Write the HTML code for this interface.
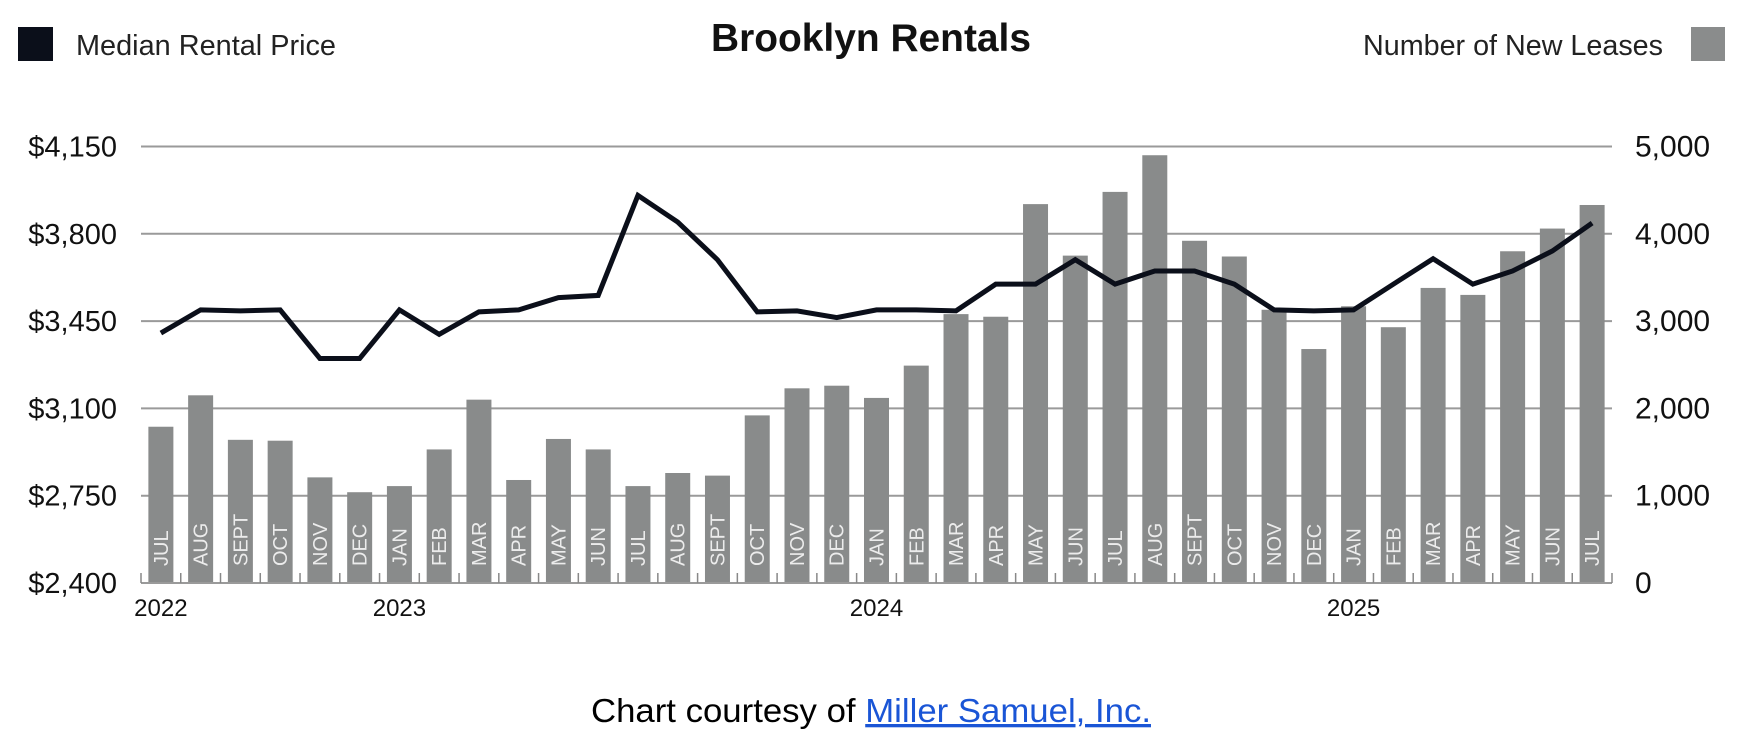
<!DOCTYPE html>
<html><head><meta charset="utf-8"><style>
html,body{margin:0;padding:0;background:#fff;}
svg{display:block;}
</style></head><body>
<svg id="chart" width="1740" height="750" viewBox="0 0 1740 750" xmlns="http://www.w3.org/2000/svg" font-family="'Liberation Sans', sans-serif">
  <rect x="18" y="27" width="35" height="34" fill="#0b0f1a"/>
  <text x="76" y="55" font-size="29" fill="#222" textLength="260" lengthAdjust="spacingAndGlyphs">Median Rental Price</text>
  <text x="871" y="51" font-size="39" font-weight="bold" text-anchor="middle" fill="#111" textLength="320" lengthAdjust="spacingAndGlyphs">Brooklyn Rentals</text>
  <text x="1663" y="55" font-size="29" text-anchor="end" fill="#222" textLength="300" lengthAdjust="spacingAndGlyphs">Number of New Leases</text>
  <rect x="1691" y="27" width="34" height="34" fill="#8a8c8c"/>
  <g id="grid"></g><g id="bars"></g><g id="ticks"></g><g id="line"></g><g id="labels"></g>
  <text x="871" y="722" font-size="33" text-anchor="middle" fill="#000" textLength="560" lengthAdjust="spacingAndGlyphs">Chart courtesy of <tspan fill="#1a55d6" text-decoration="underline">Miller Samuel, Inc.</tspan></text>
</svg>
<script>
const months = ["JUL","AUG","SEPT","OCT","NOV","DEC","JAN","FEB","MAR","APR","MAY","JUN","JUL","AUG","SEPT","OCT","NOV","DEC","JAN","FEB","MAR","APR","MAY","JUN","JUL","AUG","SEPT","OCT","NOV","DEC","JAN","FEB","MAR","APR","MAY","JUN","JUL"];
const leases = [1790,2150,1640,1630,1210,1040,1110,1530,2100,1180,1650,1530,1110,1260,1230,1920,2230,2260,2120,2490,3080,3050,4340,3750,4480,4900,3920,3740,3130,2680,3170,2930,3380,3300,3800,4060,4330];
const prices = [3402,3495,3491,3495,3300,3300,3495,3397,3487,3495,3544,3553,3954,3847,3696,3487,3491,3464,3495,3495,3491,3598,3598,3696,3598,3651,3651,3598,3495,3491,3495,3598,3700,3598,3651,3731,3843];
const leftTicks = [2400,2750,3100,3450,3800,4150];
const leftTickLabels = ["$2,400","$2,750","$3,100","$3,450","$3,800","$4,150"];
const rightTicks = [0,1000,2000,3000,4000,5000];
const rightTickLabels = ["0","1,000","2,000","3,000","4,000","5,000"];
const years = ["2022","2023","2024","2025"];
const yearIndex = [0,6,18,30];

const NS="http://www.w3.org/2000/svg";
const X0=141, X1=1612, Y0=583, Y1=146.5;
const band=(X1-X0)/months.length;
const xc=i=>X0+band*(i+0.5);
const yL=v=>Y0-(v-2400)/(4150-2400)*(Y0-Y1);
const yR=v=>Y0-v/5000*(Y0-Y1);
function mk(tag,attrs,parent){const e=document.createElementNS(NS,tag);for(const k in attrs)e.setAttribute(k,attrs[k]);document.getElementById(parent).appendChild(e);return e;}

leftTicks.forEach((t,i)=>{
  if(i>0){const g=mk('line',{x1:X0,x2:X1,y1:yL(t),y2:yL(t),stroke:'#9a9a9a','stroke-width':2},'grid');
  
  }
  const l=mk('text',{x:117,y:yL(t)+10,'font-size':29,'text-anchor':'end',fill:'#111'},'labels');
  l.textContent=leftTickLabels[i];
  
  
});
rightTicks.forEach((t,i)=>{
  const l=mk('text',{x:1635,y:yR(t)+10,'font-size':30,fill:'#111'},'labels');
  l.textContent=rightTickLabels[i];
  
  
});
const ax=mk('line',{x1:X0,x2:X1,y1:Y0,y2:Y0,stroke:'#9a9a9a','stroke-width':2},'ticks');


for(let i=0;i<=months.length;i++){
  const x=X0+band*i;
  const tk=mk('line',{x1:x,x2:x,y1:Y0-10,y2:Y0,stroke:'#888','stroke-width':1.5},'ticks');
  
  
}
leases.forEach((v,i)=>{
  const b=mk('rect',{x:xc(i)-12.5,y:yR(v),width:25,height:Y0-yR(v),fill:'#898b8b'},'bars');
  
  
  const t=mk('text',{x:0,y:0,'font-size':20,fill:'#ececec',transform:`translate(${xc(i)+7},566) rotate(-90)`},'labels');
  t.textContent=months[i];
  
  
});
const pts=prices.map((v,i)=>xc(i)+','+yL(v)).join(' ');
const pl=mk('polyline',{points:pts,fill:'none',stroke:'#0b0f1a','stroke-width':5,'stroke-linejoin':'miter'},'line');


years.forEach((y,k)=>{
  const t=mk('text',{x:xc(yearIndex[k]),y:616,'font-size':24,'text-anchor':'middle',fill:'#111'},'labels');
  t.textContent=y;
  
  
});
</script>
</body></html>
